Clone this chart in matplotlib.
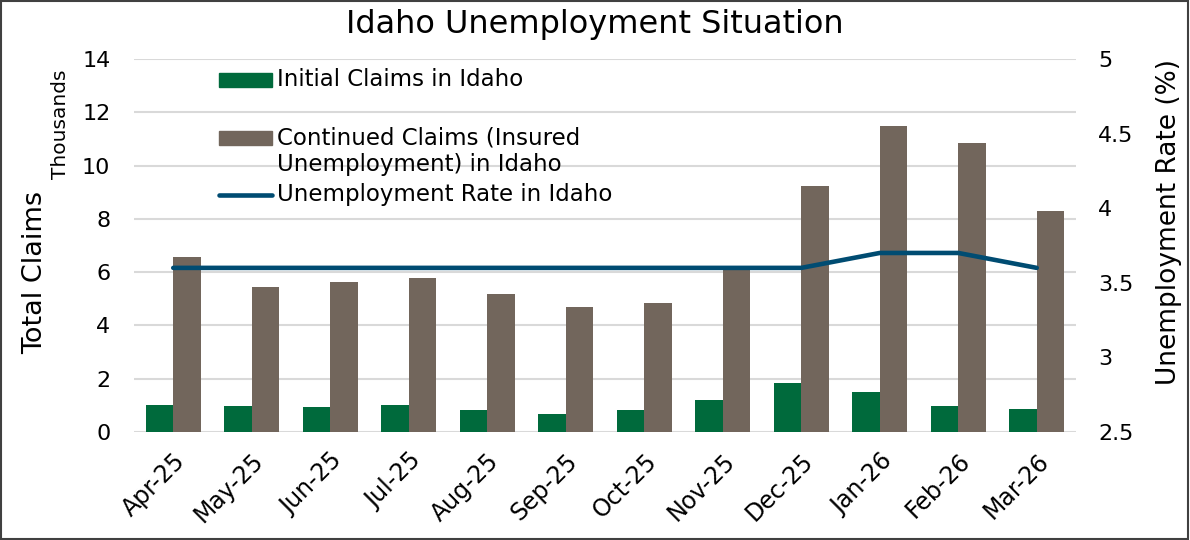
import matplotlib
matplotlib.use("Agg")
import matplotlib.pyplot as plt
import numpy as np
from matplotlib.patches import Rectangle
from matplotlib.lines import Line2D

months = ["Apr-25", "May-25", "Jun-25", "Jul-25", "Aug-25", "Sep-25",
          "Oct-25", "Nov-25", "Dec-25", "Jan-26", "Feb-26", "Mar-26"]
initial_claims = [1.01, 0.98, 0.95, 1.01, 0.83, 0.68, 0.83, 1.20, 1.83, 1.50, 0.98, 0.88]
continued_claims = [6.55, 5.45, 5.63, 5.78, 5.18, 4.69, 4.84, 6.16, 9.23, 11.49, 10.85, 8.30]
unemp_rate = [3.6, 3.6, 3.6, 3.6, 3.6, 3.6, 3.6, 3.6, 3.6, 3.7, 3.7, 3.6]

green = "#006a3c"
brown = "#72665c"
blue = "#004c72"

W, H = 1190, 540
def fx(px): return px / W
def fy(py): return 1 - py / H

plt.rcParams['font.family'] = ['DejaVu Sans']
fig = plt.figure(figsize=(11.9, 5.4), dpi=100)
L, R, T, B = 134, 1076, 59, 432
ax = fig.add_axes([fx(L), fy(B), (R - L) / W, (B - T) / H])

x = np.arange(len(months))
w = 0.35
ax.bar(x - w/2, initial_claims, w, color=green, zorder=3)
ax.bar(x + w/2, continued_claims, w, color=brown, zorder=3)
ax.set_ylim(0, 14)
ax.set_yticks(range(0, 15, 2))
ax.set_xlim(-0.5, len(months) - 0.5)
ax.set_xticks(x)
ax.set_xticklabels(months, rotation=45, ha="right", rotation_mode="anchor", fontsize=17)
ax.tick_params(axis="y", labelsize=16, length=0, pad=17)
ax.tick_params(axis="x", length=0, pad=12)
ax.grid(axis="y", color="#d9d9d9", linewidth=1.5, zorder=0)
for s in ax.spines.values():
    s.set_visible(False)
ax.set_ylabel("Total Claims", fontsize=19.5)
ax.yaxis.set_label_coords((48 - L) / (R - L), (B - 272) / (B - T))

ax2 = ax.twinx()
ax2.plot(x, unemp_rate, color=blue, linewidth=3.3, solid_capstyle="round", zorder=4)
ax2.set_ylim(2.5, 5)
ax2.set_yticks([2.5, 3, 3.5, 4, 4.5, 5])
ax2.set_yticklabels(["2.5", "3", "3.5", "4", "4.5", "5"])
ax2.tick_params(axis="y", labelsize=16, length=0, pad=16)
for s in ax2.spines.values():
    s.set_visible(False)
ax2.set_ylabel("Unemployment Rate (%)", fontsize=19, rotation=90)
ax2.yaxis.set_label_coords((1156 - L) / (R - L), (B - 222) / (B - T))

fig.text(fx(61), fy(124), "Thousands", rotation=90, fontsize=14.5,
         ha="center", va="center")
fig.text(fx(595), fy(24), "Idaho Unemployment Situation", fontsize=23,
         ha="center", va="center")

# legend (drawn as in the reference, handle aligned with first text line)
hx0, hx1 = 219, 272
tx = 277
fs_leg = 16.5
fig.patches.append(Rectangle((fx(hx0), fy(87)), fx(hx1) - fx(hx0), (14) / H,
                             transform=fig.transFigure, color=green))
fig.text(fx(tx), fy(80), "Initial Claims in Idaho", fontsize=fs_leg, va="center")
fig.patches.append(Rectangle((fx(hx0), fy(145)), fx(hx1) - fx(hx0), (14) / H,
                             transform=fig.transFigure, color=brown))
fig.text(fx(tx), fy(138), "Continued Claims (Insured", fontsize=fs_leg, va="center")
fig.text(fx(tx), fy(164), "Unemployment) in Idaho", fontsize=fs_leg, va="center")
fig.lines.append(Line2D([fx(hx0), fx(hx1)], [fy(195), fy(195)], transform=fig.transFigure,
                        color=blue, linewidth=3.3, solid_capstyle="round"))
fig.text(fx(tx), fy(195), "Unemployment Rate in Idaho", fontsize=fs_leg, va="center")

fig.patches.append(Rectangle((0.001, 0.001), 0.997, 0.997, transform=fig.transFigure,
                             fill=False, edgecolor="#404040", linewidth=1.5))
fig.savefig("out.png", dpi=100)
